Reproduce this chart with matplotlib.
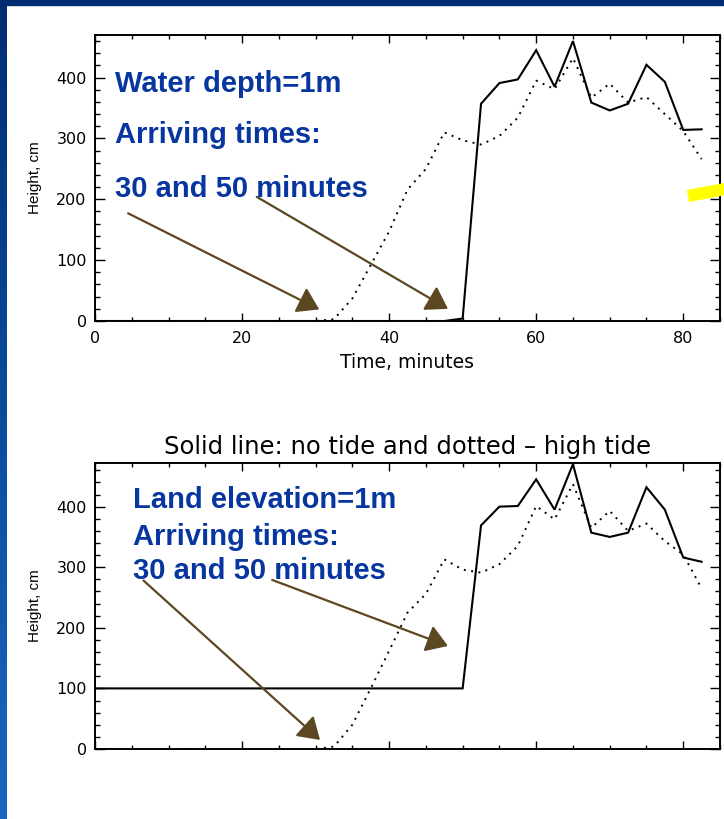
import matplotlib
matplotlib.use("Agg")
import matplotlib.pyplot as plt
import numpy as np
from matplotlib.colors import LinearSegmentedColormap
from matplotlib.patches import Polygon, Rectangle
from matplotlib.ticker import MultipleLocator

W, H = 724, 819

# model output sampled every 2.5 minutes
time_min = [0, 2.5, 5, 7.5, 10, 12.5, 15, 17.5, 20, 22.5, 25, 27.5, 30,
            32.5, 35, 37.5, 40, 42.5, 45, 47.5, 50, 52.5, 55, 57.5, 60,
            62.5, 65, 67.5, 70, 72.5, 75, 77.5, 80, 82.5]

# water depth 1 m
depth_no_tide = [0, 0, 0, 0, 0, 0, 0, 0, 0, 0, 0, 0, 0,
                 0, 0, 0, 0, 0, 0, 0, 4, 357, 391, 397, 445,
                 385, 460, 359, 346, 357, 421, 393, 314, 315]
depth_high_tide = [0, 0, 0, 0, 0, 0, 0, 0, 0, 0, 0, 0, 0,
                   3, 37, 92, 147, 216, 250, 310, 297, 290, 304, 334, 395,
                   381, 432, 367, 390, 359, 368, 340, 312, 266]

# land elevation 1 m
land_no_tide = [100, 100, 100, 100, 100, 100, 100, 100, 100, 100, 100, 100, 100,
                100, 100, 100, 100, 100, 100, 100, 100, 369, 400, 401, 445,
                395, 470, 357, 350, 357, 432, 395, 316, 309]
land_high_tide = [0, 0, 0, 0, 0, 0, 0, 0, 0, 0, 0, 0, 0,
                  4, 40, 100, 162, 225, 256, 313, 296, 291, 305, 335, 401,
                  379, 437, 365, 393, 360, 372, 343, 321, 265]

BLUE_TEXT = "#0836a0"
BROWN = "#5b4721"
TICK_FONT = "DejaVu Sans"


def px(x, y):
    """Pixel position (from top-left) to figure fraction."""
    return x / W, 1 - y / H


def style_axes(ax, ylim, show_xlabels):
    ax.set_xlim(0, 85)
    ax.set_ylim(*ylim)
    ax.xaxis.set_major_locator(MultipleLocator(20))
    ax.xaxis.set_minor_locator(MultipleLocator(5))
    ax.yaxis.set_major_locator(MultipleLocator(100))
    ax.yaxis.set_minor_locator(MultipleLocator(20))
    ax.tick_params(which="both", direction="in", top=True, right=True,
                   width=1.0, color="black", labelsize=11.5)
    ax.tick_params(axis="x", which="major", length=6, pad=7,
                   labelbottom=show_xlabels)
    ax.tick_params(axis="x", which="minor", length=3)
    ax.tick_params(axis="y", which="major", length=7, pad=6)
    ax.tick_params(axis="y", which="minor", length=3.5)
    for lab in ax.get_xticklabels() + ax.get_yticklabels():
        lab.set_family(TICK_FONT)
    for sp in ax.spines.values():
        sp.set_linewidth(1.4)
        sp.set_zorder(3)


def arrow(ax, start, tip):
    ax.annotate("", xy=tip, xytext=start,
                arrowprops=dict(arrowstyle="-|>,head_length=0.65,head_width=0.42",
                                color=BROWN, lw=1.6, shrinkA=0, shrinkB=0,
                                mutation_scale=20))


fig = plt.figure(figsize=(W / 100, H / 100), dpi=100, facecolor="white")

# slide frame: dark navy strip on top, blue gradient down the left edge
edge = fig.add_axes([0, 0, 7 / W, 1])
edge.imshow(np.linspace(0, 1, 256).reshape(-1, 1), aspect="auto",
            cmap=LinearSegmentedColormap.from_list("edge", ["#002d72", "#0a4c9c", "#1a67bf"]))
edge.set_axis_off()
fig.patches.append(Rectangle(px(0, 5), 1, 5 / H, transform=fig.transFigure,
                             color="#002d72", zorder=5))

# upper panel: water depth
ax1 = fig.add_axes([95 / W, 1 - 321 / H, 625 / W, 286 / H])
ax1.plot(time_min, depth_no_tide, color="black", lw=1.5, solid_joinstyle="miter")
ax1.plot(time_min, depth_high_tide, color="black", lw=1.4, linestyle=(0, (1, 2.8)))
style_axes(ax1, (0, 470), True)
arrow(ax1, (4.5, 177), (30.5, 19))
arrow(ax1, (22.0, 204), (48.0, 20))

fig.text(*px(407, 363), "Time, minutes", ha="center", va="center",
         family=TICK_FONT, fontsize=13.5)
fig.text(*px(35, 178), "Height, cm", ha="center", va="center", rotation=90,
         family="Liberation Sans", fontsize=11)

# lower panel: land elevation
ax2 = fig.add_axes([95 / W, 1 - 749 / H, 625 / W, 286 / H])
ax2.plot(time_min, land_no_tide, color="black", lw=1.5, solid_joinstyle="miter")
ax2.plot(time_min, land_high_tide, color="black", lw=1.4, linestyle=(0, (1, 2.8)))
style_axes(ax2, (0, 472), False)
arrow(ax2, (6.6, 278), (30.6, 15))
arrow(ax2, (24.1, 279), (48.0, 170))

fig.text(*px(407.5, 447), "Solid line: no tide and dotted \u2013 high tide",
         ha="center", va="center", family=TICK_FONT, fontsize=17.5)
fig.text(*px(35, 606), "Height, cm", ha="center", va="center", rotation=90,
         family="Liberation Sans", fontsize=11)

# blue captions
text_kw = dict(family="Liberation Sans", weight="bold", fontsize=21,
               color=BLUE_TEXT, va="baseline", ha="left")
fig.text(*px(115, 92), "Water depth=1m", **text_kw)
fig.text(*px(115, 143), "Arriving times:", **text_kw)
fig.text(*px(115, 197), "30 and 50 minutes", **text_kw)
fig.text(*px(133, 508), "Land elevation=1m", **text_kw)
fig.text(*px(133, 545), "Arriving times:", **text_kw)
fig.text(*px(133, 579), "30 and 50 minutes", **text_kw)

# highlighter stroke at the right margin
fig.patches.append(Polygon([px(687, 190), px(689, 202), px(726, 195), px(724, 183)],
                           closed=True, transform=fig.transFigure,
                           facecolor="#ffff00", edgecolor="none", zorder=10))

fig.savefig("out.png", dpi=100, facecolor="white")
